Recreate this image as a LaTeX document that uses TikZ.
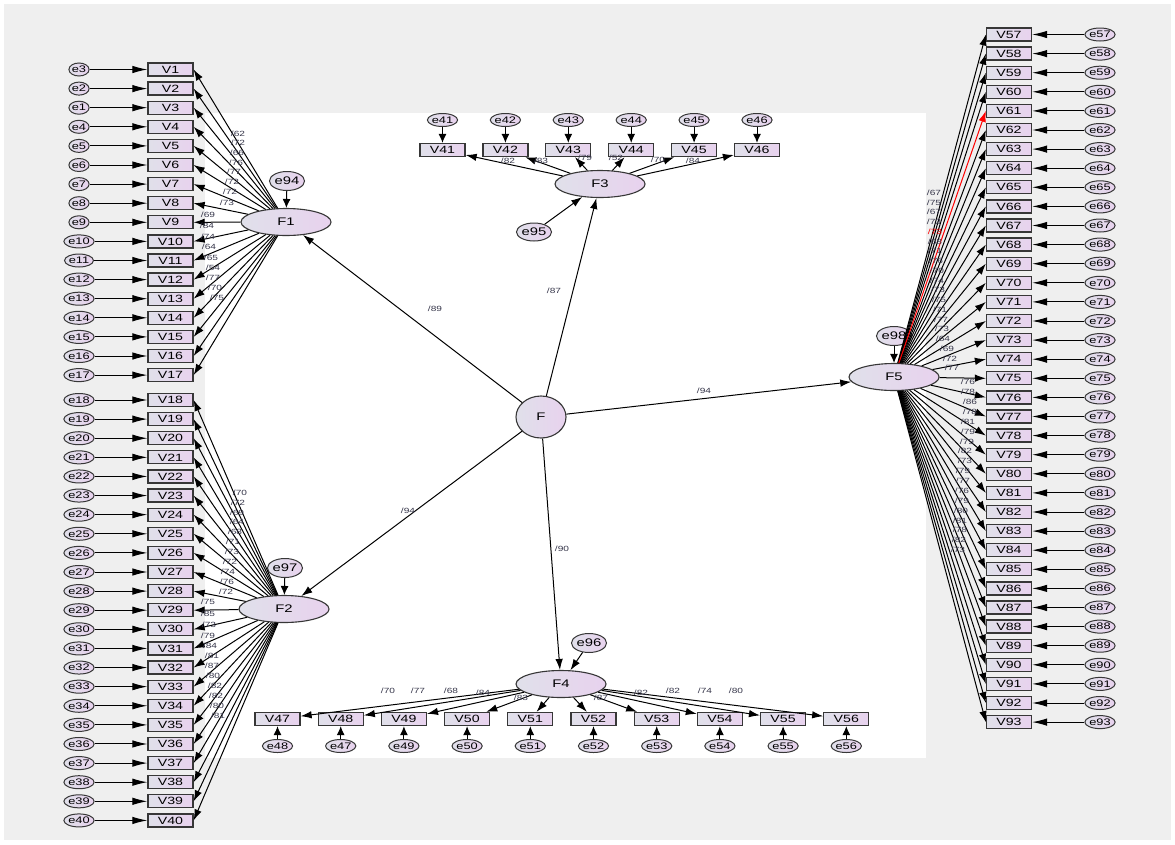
\documentclass[tikz,border=0pt]{standalone}
\usepackage{fontspec}
\setmainfont{Liberation Sans}
\newfontfamily\wf[FakeStretch=1.35]{Liberation Sans}
\usetikzlibrary{arrows.meta,shapes.geometric}
\definecolor{bg}{RGB}{239,239,239}
\definecolor{lc}{RGB}{224,224,234}
\definecolor{rc}{RGB}{232,210,238}
\definecolor{bd}{RGB}{55,55,55}
\definecolor{lab}{RGB}{55,55,75}
\tikzset{
 obs/.style={draw=bd,line width=1.3pt,left color=lc,right color=rc,minimum width=45pt,minimum height=13pt,inner sep=0pt,font=\wf\fontsize{10.5}{10.5}\selectfont},
 lat/.style={ellipse,draw=bd,line width=1.1pt,left color=lc,right color=rc,minimum width=90pt,minimum height=27pt,inner sep=0pt,font=\wf\fontsize{11}{11}\selectfont},
 err/.style={ellipse,draw=bd,line width=1pt,left color=lc,right color=rc,minimum width=19pt,minimum height=13pt,inner sep=0pt,font=\wf\fontsize{9.5}{9.5}\selectfont},
 errb/.style={err,minimum width=30pt,minimum height=19pt,font=\wf\fontsize{11}{11}\selectfont},
 arr/.style={draw=black,line width=1pt,-{Latex[length=11pt,width=7.5pt]}},
 harr/.style={arr,-{Latex[length=15pt,width=7.5pt]}},
 varr/.style={arr,-{Latex[length=9pt,width=8pt]}},
 lbl/.style={font=\wf\fontsize{7.5}{7.5}\selectfont,text=lab,inner sep=0pt},
}
\begin{document}
\begin{tikzpicture}[x=1pt,y=-1pt]
\useasboundingbox (0,0) rectangle (1175,844);
\fill[bg] (4,4) rectangle (1171,840);
\fill[white] (205,113) rectangle (926,758);
% left column F1
\foreach \i/\e in {1/3,2/2,3/1,4/4,5/5,6/6,7/7,8/8,9/9,10/10,11/11,12/12,13/13,14/14,15/15,16/16,17/17}{
  \node[obs] (V\i) at (170.5,{69.5+19.1*(\i-1)}) {V\i};
  \node[err] (E\i) at (79,{69.5+19.1*(\i-1)}) {e\e};
  \draw[harr] (E\i) -- (V\i);
}
\foreach \i in {18,...,40}{
  \node[obs] (V\i) at (170.5,{400+19.11*(\i-18)}) {V\i};
  \node[err] (E\i) at (79,{400+19.11*(\i-18)}) {e\i};
  \draw[harr] (E\i) -- (V\i);
}
% F3 row
\foreach \i [count=\j from 0] in {41,...,46}{
  \node[obs] (V\i) at ({442.5+62.9*\j},150) {V\i};
  \node[err] (E\i) at ({442.5+62.9*\j},120) {e\i};
  \draw[varr] (E\i) -- (V\i);
}
% F4 row
\foreach \i/\e [count=\j from 0] in {47/48,48/47,49/49,50/50,51/51,52/52,53/53,54/54,55/55,56/56}{
  \node[obs] (V\i) at ({277.5+63.2*\j},719) {V\i};
  \node[err] (E\i) at ({277.5+63.2*\j},746) {e\e};
  \draw[varr] (E\i) -- (V\i);
}
% right column F5
\foreach \i in {57,...,93}{
  \node[obs] (V\i) at (1009,{34.5+19.1*(\i-57)}) {V\i};
  \node[err] (E\i) at (1100,{34.5+19.1*(\i-57)}) {e\i};
  \draw[harr] (E\i) -- (V\i);
}
% latents
\node[lat] (F1) at (286,222) {F1};
\node[lat] (F2) at (284,609) {F2};
\node[lat] (F3) at (600,184) {F3};
\node[lat] (F4) at (561,684) {F4};
\node[lat] (F5) at (894,377) {F5};
\node[lat,minimum width=50pt,minimum height=42pt] (F) at (541,417) {F};
\node[errb] (e94) at (287,181) {e94};
\node[errb] (e97) at (285,568) {e97};
\node[errb,minimum width=28pt,minimum height=18pt] (e95) at (534,232) {e95};
\node[errb] (e96) at (589,643) {e96};
\node[errb] (e98) at (894,336) {e98};
% loadings
\foreach \i in {1,...,17}{\draw[arr] (F1) -- (V\i.east);}
\foreach \i in {18,...,40}{\draw[arr] (F2) -- (V\i.east);}
\foreach \i in {41,...,46}{\draw[arr] (F3) -- (V\i);}
\foreach \i in {47,...,56}{\draw[arr] (F4) -- (V\i);}
\foreach \i in {57,58,59,60,62,63,64,65,66,67,68,69,70,71,72,73,74,75,76,77,78,79,80,81,82,83,84,85,86,87,88,89,90,91,92,93}{\draw[arr] (F5) -- (V\i.west);}
\draw[arr,draw=red] (F5) -- (V61.west);
% structural
\draw[arr] (F) -- (F1);
\draw[arr] (F) -- (F2);
\draw[arr] (F) -- (F3);
\draw[arr] (F) -- (F4);
\draw[arr] (F) -- (F5);
\draw[varr] (e94) -- (F1);
\draw[varr] (e97) -- (F2);
\draw[arr] (e95) -- (F3);
\draw[arr] (e96) -- (F4);
\draw[varr] (e98) -- (F5);
% labels
\foreach \x/\y/\t [count=\c] in {238/134/62,238/143/72,237/153/66,236/163/76,234/172/77,232/182/72,230/192/72,227/203/73,208/215/69,207/226/84,208/237/74,209/247/64,211/258/65,213/268/54,213/278/77,215/288/70,217/298/75}
  {\node[lbl] (La\c) at (\x,\y) {/\t};}
\foreach \x/\y/\t [count=\c] in {240/493/70,238/503/72,237/513/69,237/522/64,235/532/68,233/542/71,232/552/73,230/562/72,228/572/74,227/582/76,226/592/72,208/602/75,208/614/85,209/625/73,208/636/79,210/646/84,212/656/81,212/666/87,213/676/80,215/686/82,216/696/82,217/706/80,218/716/81}
  {\node[lbl] (Lb\c) at (\x,\y) {/\t};}
\foreach \x/\y/\t [count=\c] in {508/161/82,541/161/83,585/158/79,616/158/52,658/160/70,693/161/84}
  {\node[lbl] (Lc\c) at (\x,\y) {/\t};}
\foreach \x/\y/\t [count=\c] in {388/691/70,418/691/77,451/691/68,483/693/84,521/698/83,601/698/87,641/693/82,673/691/82,705/691/74,736/691/80}
  {\node[lbl] (Ld\c) at (\x,\y) {/\t};}
\foreach \x/\y/\t [count=\c] in {435/309/89,554/291/87,704/391/94,408/511/94,562/549/90}
  {\node[lbl] (Ls\c) at (\x,\y) {/\t};}
\foreach \x/\y/\t [count=\c] in {934/193/67,934/203/75,934/212/67,934/222/73,935/242/68,935/251/71,936/261/76,937/271/70,937/281/74,938/290/73,939/300/75,940/310/71,941/320/77,942/329/73,943/339/64,947/349/69,950/359/72,952/368/77,968/382/76,968/392/78,970/402/86,970/412/78,968/422/81,968/432/79,967/442/79,965/451/82,965/461/73,963/471/79,963/481/77,962/491/76,962/501/79,961/511/80,960/521/81,960/530/78,959/540/82,958/550/73}
  {\node[lbl] (Le\c) at (\x,\y) {/\t};}
\node[lbl,text=red] (LeR) at (935,232) {/73};
\end{tikzpicture}
\end{document}
